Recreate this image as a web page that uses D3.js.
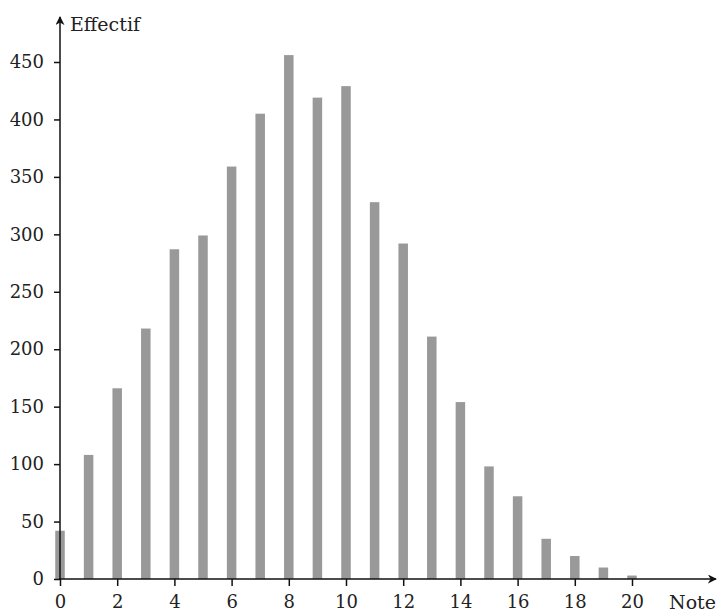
<!DOCTYPE html>
<html>
<head>
<meta charset="utf-8">
<script src="https://cdn.jsdelivr.net/npm/d3@7"></script>
<style>
  body { margin: 0; background: #fff; }
  text { font-family: "DejaVu Serif", "Liberation Serif", serif; fill: #222; }
</style>
</head>
<body>
<div id="chart"></div>
<script>
// data
let notes = [0, 1, 2, 3, 4, 5, 6, 7, 8, 9, 10, 11, 12, 13, 14, 15, 16, 17, 18, 19, 20];
let effectifs = [42, 108, 166, 218, 287, 299, 359, 405, 456, 419, 429, 328, 292, 211, 154, 98, 72, 35, 20, 10, 3];
let xTicks = [0, 2, 4, 6, 8, 10, 12, 14, 16, 18, 20];
let yTicks = [0, 50, 100, 150, 200, 250, 300, 350, 400, 450];

let svgWidth = 718;
let svgHeight = 612;

let svg = d3.select('#chart').append('svg')
    .attr('width', svgWidth)
    .attr('height', svgHeight);

// scales
let x = d3.scaleLinear().domain([0, 20]).range([60, 632]);
let y = d3.scaleLinear().domain([0, 450]).range([579, 62]);

// bars
svg.selectAll('.bar')
    .data(notes)
    .enter()
    .append('rect')
    .attr('class', 'bar')
    .attr('x', (d, i) => x(d) - 4.75)
    .attr('y', (d, i) => y(effectifs[i]))
    .attr('width', 9.5)
    .attr('height', (d, i) => y(0) - y(effectifs[i]))
    .attr('fill', '#999');

// arrow head
svg.append('defs').append('marker')
    .attr('id', 'arrow')
    .attr('viewBox', '0 0 10 10')
    .attr('refX', 9).attr('refY', 5)
    .attr('markerWidth', 9).attr('markerHeight', 9)
    .attr('markerUnits', 'userSpaceOnUse')
    .attr('orient', 'auto')
    .append('path')
    .attr('d', 'M0,0 L10,5 L0,10 L3,5 Z')
    .attr('fill', '#111');

// x axis
let xAxis = d3.axisBottom(x).tickValues(xTicks).tickSize(7).tickPadding(9).tickSizeOuter(0);
let gx = svg.append('g').attr('transform', `translate(0, ${y(0)})`).call(xAxis);
gx.select('.domain').remove();
gx.selectAll('line').attr('stroke', '#111').attr('stroke-width', 1.5);
gx.selectAll('text').attr('font-size', '18px').attr('font-family', '"DejaVu Serif", serif').attr('fill', '#222');

svg.append('line')
    .attr('x1', 59).attr('x2', 716)
    .attr('y1', y(0)).attr('y2', y(0))
    .attr('stroke', '#111').attr('stroke-width', 1.5)
    .attr('marker-end', 'url(#arrow)');

// y axis
let yAxis = d3.axisLeft(y).tickValues(yTicks).tickSize(6).tickPadding(10).tickSizeOuter(0);
let gy = svg.append('g').attr('transform', `translate(${x(0)}, 0)`).call(yAxis);
gy.select('.domain').remove();
gy.selectAll('line').attr('stroke', '#111').attr('stroke-width', 1.5);
gy.selectAll('text').attr('font-size', '18px').attr('font-family', '"DejaVu Serif", serif').attr('fill', '#222');

svg.append('line')
    .attr('x1', x(0)).attr('x2', x(0))
    .attr('y1', y(0) + 1).attr('y2', 17)
    .attr('stroke', '#111').attr('stroke-width', 1.5)
    .attr('marker-end', 'url(#arrow)');

// axis titles
svg.append('text')
    .attr('x', 70).attr('y', 31)
    .attr('font-size', '19px')
    .text('Effectif');

svg.append('text')
    .attr('x', 716).attr('y', 609)
    .attr('text-anchor', 'end')
    .attr('font-size', '19px')
    .text('Note');
</script>
</body>
</html>
